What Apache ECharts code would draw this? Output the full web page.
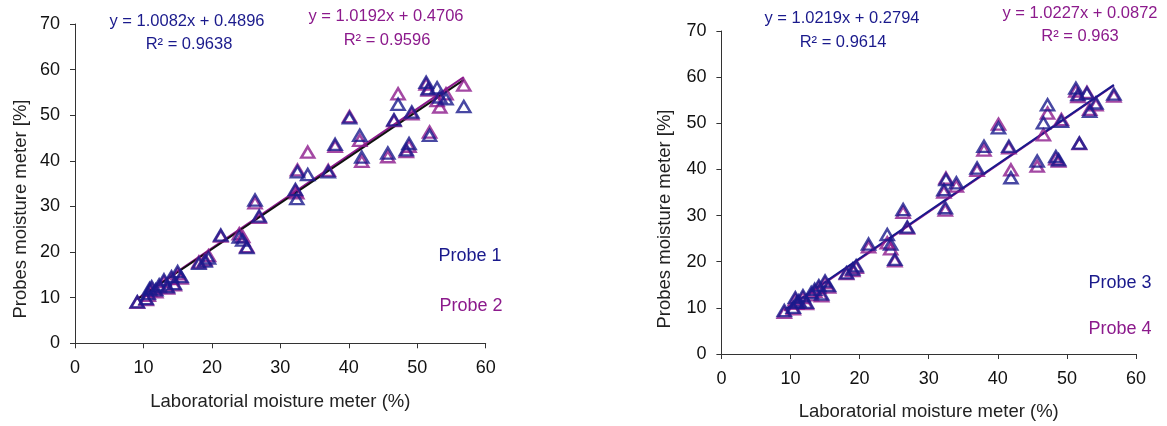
<!DOCTYPE html>
<html>
<head>
<meta charset="utf-8">
<script src="https://cdn.jsdelivr.net/npm/echarts@6/dist/echarts.min.js"></script>
<style>
  html, body { margin: 0; padding: 0; background: #fff; }
  #chart { width: 1167px; height: 426px; }
</style>
</head>
<body>
<div id="chart"></div>
<script>
// laboratory reference readings (same samples for every probe)
const labX = [9.1, 10.4, 10.7, 10.9, 11.2, 11.8, 12.3, 13.0, 13.5, 14.1, 14.5, 15.0, 15.5,
  18.1, 19.0, 19.5, 21.3, 24.0, 24.5, 25.1, 26.3, 26.9, 32.2, 32.4, 32.5, 34.0, 37.0, 38.0,
  40.1, 41.6, 41.9, 45.7, 46.6, 47.2, 48.4, 48.8, 49.2, 51.3, 51.6, 51.8, 52.9, 53.3, 54.2, 56.8]

const probe1 = [9.1, 9.8, 10.9, 12.0, 12.4, 11.7, 12.8, 13.9, 12.4, 14.6, 13.1, 15.7, 14.6,
  17.5, 18.0, 18.7, 23.7, 23.3, 22.6, 21.0, 31.4, 27.9, 33.7, 31.7, 37.6, 37.0, 37.6, 43.6,
  49.4, 45.6, 40.8, 41.7, 49.0, 52.4, 42.4, 43.8, 50.7, 57.2, 55.8, 45.6, 56.0, 54.0, 53.6, 51.9]

const probe2 = [9.0, 9.6, 10.5, 11.6, 12.0, 11.3, 12.4, 13.5, 12.1, 14.2, 12.8, 15.2, 14.3,
  17.8, 18.3, 19.2, 23.5, 24.0, 23.4, 21.2, 30.8, 27.6, 33.4, 33.0, 38.0, 41.9, 37.9, 43.2,
  49.7, 44.5, 39.9, 40.9, 48.8, 54.7, 42.0, 43.2, 50.3, 56.8, 55.5, 46.3, 53.2, 51.8, 54.7, 56.6]

const probe3 = [9.4, 10.1, 12.2, 11.2, 11.5, 12.6, 11.2, 13.3, 14.0, 14.8, 13.0, 15.8, 14.8,
  17.6, 18.4, 19.1, 23.8, 25.9, 23.8, 20.5, 31.3, 27.5, 35.6, 31.7, 37.8, 37.1, 40.3, 45.0,
  49.0, 45.0, 38.2, 41.8, 50.1, 54.0, 42.8, 42.1, 50.4, 57.6, 56.2, 45.7, 56.5, 52.6, 54.4, 56.3]

const probe4 = [9.0, 9.8, 11.8, 11.0, 11.2, 12.2, 10.9, 12.8, 13.6, 14.4, 12.6, 15.4, 14.5,
  17.4, 18.1, 18.8, 23.2, 24.1, 22.8, 20.2, 30.7, 27.3, 35.1, 31.2, 38.1, 36.4, 39.8, 44.2,
  49.8, 44.7, 39.9, 40.7, 47.5, 52.2, 42.3, 41.8, 50.8, 57.0, 55.8, 45.6, 56.7, 53.0, 54.0, 55.9]

// trendline end points
const trendX = [9.1, 56.8]
const trend1 = [9.66, 57.76]
const trend2 = [9.75, 58.36]
const trend3 = [9.58, 58.32]
const trend4 = [9.39, 58.18]

const xTicks = [0, 10, 20, 30, 40, 50, 60]
const yTicks = [0, 10, 20, 30, 40, 50, 60, 70]

const NAVY = '#1a1a8c'
const PURPLE = '#8c1a8c'
const FONT = '"Liberation Sans", Arial, sans-serif'

const pairs = (xs, ys) => xs.map((x, i) => [x, ys[i]])

const xAxisCfg = (gridIndex, gap) => ({
  gridIndex,
  type: 'value',
  min: xTicks[0],
  max: xTicks[xTicks.length - 1],
  interval: 10,
  name: 'Laboratorial moisture meter (%)',
  nameLocation: 'middle',
  nameGap: gap,
  nameTextStyle: { fontFamily: FONT, fontSize: 18.5, color: '#222' },
  axisLine: { lineStyle: { color: '#333', width: 1 } },
  axisTick: { show: true, length: 5, lineStyle: { color: '#333' } },
  axisLabel: { fontFamily: FONT, fontSize: 18, color: '#111', margin: 16 },
  splitLine: { show: false }
})

const yAxisCfg = (gridIndex) => ({
  gridIndex,
  type: 'value',
  min: yTicks[0],
  max: yTicks[yTicks.length - 1],
  interval: 10,
  axisLine: { show: true, lineStyle: { color: '#333', width: 1 } },
  axisTick: { show: true, length: 5, lineStyle: { color: '#333' } },
  axisLabel: { fontFamily: FONT, fontSize: 18, color: '#111', margin: 15 },
  splitLine: { show: false }
})

const scatter = (name, idx, ys, color) => ({
  name,
  type: 'scatter',
  xAxisIndex: idx,
  yAxisIndex: idx,
  symbol: 'triangle',
  symbolSize: [13, 11],
  itemStyle: { color: 'rgba(255,255,255,0)', borderColor: color, borderWidth: 2.5 },
  data: pairs(labX, ys),
  z: 3
})

const trend = (idx, ys, color) => ({
  type: 'line',
  xAxisIndex: idx,
  yAxisIndex: idx,
  showSymbol: false,
  silent: true,
  lineStyle: { color, width: 2 },
  data: pairs(trendX, ys),
  z: 2
})

const txt = (x, y, text, color, size, rotation) => ({
  type: 'text',
  x,
  y,
  rotation: rotation || 0,
  style: {
    text, fill: color, font: `${size}px ${FONT}`,
    textAlign: 'center', textVerticalAlign: 'middle', align: 'center', verticalAlign: 'middle'
  }
})

const chart = echarts.init(document.getElementById('chart'))
chart.setOption({
  animation: false,
  grid: [
    { left: 75, top: 24, width: 410.7, height: 319.3 },
    { left: 721.4, top: 31, width: 414.6, height: 324 }
  ],
  xAxis: [xAxisCfg(0, 49), xAxisCfg(1, 48)],
  yAxis: [yAxisCfg(0), yAxisCfg(1)],
  series: [
    trend(0, trend2, PURPLE),
    trend(0, trend1, '#111'),
    scatter('Probe 2', 0, probe2, PURPLE),
    scatter('Probe 1', 0, probe1, NAVY),
    trend(1, trend4, PURPLE),
    trend(1, trend3, NAVY),
    scatter('Probe 4', 1, probe4, PURPLE),
    scatter('Probe 3', 1, probe3, NAVY)
  ],
  graphic: [
    // y axis titles sit a little below the plot centre in the original
    txt(21, 209, 'Probes moisture meter [%]', '#222', 18.5, Math.PI / 2),
    txt(665, 219, 'Probes moisture meter [%]', '#222', 18.5, Math.PI / 2),
    txt(187, 21, 'y = 1.0082x + 0.4896', NAVY, 16.5),
    txt(189, 44, 'R² = 0.9638', NAVY, 16.5),
    txt(386, 16, 'y = 1.0192x + 0.4706', PURPLE, 16.5),
    txt(387, 40, 'R² = 0.9596', PURPLE, 16.5),
    txt(470, 256, 'Probe 1', NAVY, 18),
    txt(471, 306, 'Probe 2', PURPLE, 18),
    txt(842, 18, 'y = 1.0219x + 0.2794', NAVY, 16.5),
    txt(843, 42, 'R² = 0.9614', NAVY, 16.5),
    txt(1080, 13, 'y = 1.0227x + 0.0872', PURPLE, 16.5),
    txt(1080, 36, 'R² = 0.963', PURPLE, 16.5),
    txt(1120, 283, 'Probe 3', NAVY, 18),
    txt(1120, 329, 'Probe 4', PURPLE, 18)
  ]
})
</script>
</body>
</html>
